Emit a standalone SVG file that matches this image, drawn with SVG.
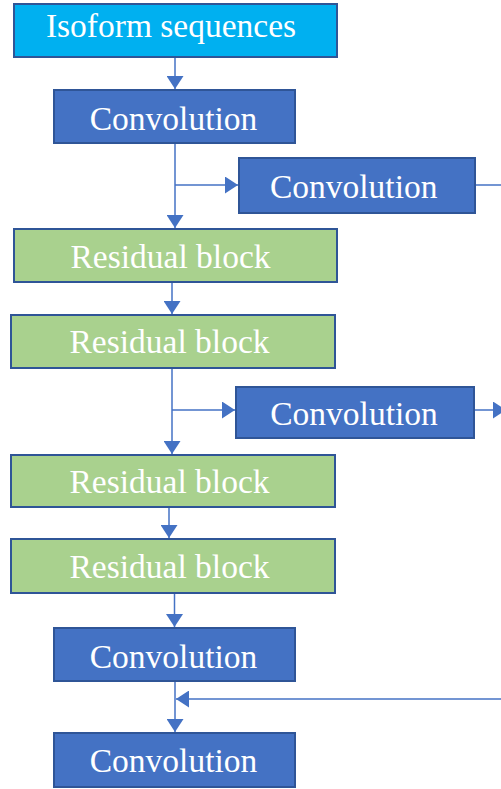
<svg xmlns="http://www.w3.org/2000/svg" width="501" height="789" viewBox="0 0 501 789">
  <style>
    .box { stroke: #2F5597; stroke-width: 2; }
    .input { fill: #00B0F0; }
    .conv { fill: #4472C4; }
    .res { fill: #A9D18E; }
    .lbl { font-family: "Liberation Serif", "Times New Roman", serif; font-size: 33.5px; fill: #FFFFFF; text-anchor: middle; }
    .wire { fill: none; stroke: #4472C4; stroke-width: 1.5; }
  </style>
  <defs>
    <marker id="arrow" viewBox="0 0 13 17" refX="13" refY="8.5" markerWidth="13" markerHeight="17" markerUnits="userSpaceOnUse" orient="auto">
      <path d="M0,0 L13,8.5 L0,17 Z" fill="#4472C4"/>
    </marker>
  </defs>
  <rect width="501" height="789" fill="#FFFFFF"/>

  <g id="connectors">
    <path class="wire" d="M175,57 V89" marker-end="url(#arrow)"/>
    <path class="wire" d="M175,143 V228" marker-end="url(#arrow)"/>
    <path class="wire" d="M175,185 H238" marker-end="url(#arrow)"/>
    <path class="wire" d="M475,185 H501"/>
    <path class="wire" d="M172,282 V314" marker-end="url(#arrow)"/>
    <path class="wire" d="M172,368 V454" marker-end="url(#arrow)"/>
    <path class="wire" d="M172,410 H235" marker-end="url(#arrow)"/>
    <path class="wire" d="M474,410 H506" marker-end="url(#arrow)"/>
    <path class="wire" d="M169,507 V538" marker-end="url(#arrow)"/>
    <path class="wire" d="M174.5,593 V627" marker-end="url(#arrow)"/>
    <path class="wire" d="M175,681 V732" marker-end="url(#arrow)"/>
    <path class="wire" d="M501,699 H176" marker-end="url(#arrow)"/>
  </g>

  <g id="input">
    <rect class="box input" x="14" y="4" width="323" height="53"/>
    <text class="lbl" x="171" y="37">Isoform sequences</text>
  </g>
  <g id="conv1">
    <rect class="box conv" x="54" y="90" width="241" height="53"/>
    <text class="lbl" x="173.5" y="130">Convolution</text>
  </g>
  <g id="conv-skip1">
    <rect class="box conv" x="239" y="158" width="236" height="55"/>
    <text class="lbl" x="353.7" y="198">Convolution</text>
  </g>
  <g id="res1">
    <rect class="box res" x="14" y="229" width="323" height="53"/>
    <text class="lbl" x="170.5" y="268">Residual block</text>
  </g>
  <g id="res2">
    <rect class="box res" x="11" y="315" width="324" height="53"/>
    <text class="lbl" x="169.5" y="353">Residual block</text>
  </g>
  <g id="conv-skip2">
    <rect class="box conv" x="236" y="387" width="238" height="51"/>
    <text class="lbl" x="354" y="425">Convolution</text>
  </g>
  <g id="res3">
    <rect class="box res" x="11" y="455" width="324" height="52"/>
    <text class="lbl" x="169.5" y="493">Residual block</text>
  </g>
  <g id="res4">
    <rect class="box res" x="11" y="539" width="324" height="54"/>
    <text class="lbl" x="169.5" y="578">Residual block</text>
  </g>
  <g id="conv2">
    <rect class="box conv" x="54" y="628" width="241" height="53"/>
    <text class="lbl" x="173.5" y="668">Convolution</text>
  </g>
  <g id="conv3">
    <rect class="box conv" x="54" y="733" width="241" height="54"/>
    <text class="lbl" x="173.5" y="772">Convolution</text>
  </g>
</svg>
